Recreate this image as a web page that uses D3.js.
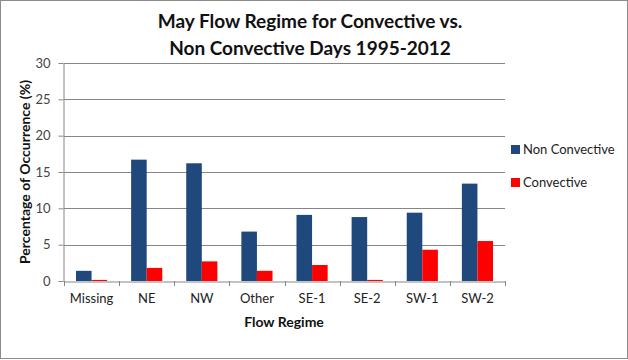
<!DOCTYPE html>
<html><head><meta charset="utf-8">
<script src="https://cdn.jsdelivr.net/npm/d3@7"></script>
<style>body{margin:0;background:#fff}svg{display:block}text{font-family:Lato,"Open Sans",sans-serif}</style>
</head><body>
<svg id="c" width="628" height="360"></svg>
<script>
const categories = ["Missing","NE","NW","Other","SE-1","SE-2","SW-1","SW-2"];
const nonConvective = [1.4,16.7,16.2,6.8,9.1,8.8,9.4,13.4];
const convective = [0.15,1.8,2.7,1.4,2.2,0.15,4.3,5.5];
const seriesNames = ["Non Convective","Convective"];
const seriesColors = ["#1F497D","#FF0000"];
const yTicks = [0,5,10,15,20,25,30];
const titleLines = ["May Flow Regime for Convective vs.","Non Convective Days 1995-2012"];

const svg = d3.select("#c");
svg.append("rect").attr("x",0.5).attr("y",0.5).attr("width",627).attr("height",358)
  .attr("fill","#fff").attr("stroke","#8c8c8c");

const m = {left:64,right:505,top:63,bottom:281};
const x = d3.scaleBand().domain(categories).range([m.left,m.right]).paddingInner(0.435).paddingOuter(0.2175);
const x1 = d3.scaleBand().domain(seriesNames).range([0,x.bandwidth()]);
const y = d3.scaleLinear().domain([0,30]).range([m.bottom,m.top]);

// gridlines
svg.append("g").selectAll("line").data(yTicks.filter(d=>d>0)).join("line")
  .attr("x1",m.left).attr("x2",m.right).attr("y1",d=>Math.round(y(d))+0.5).attr("y2",d=>Math.round(y(d))+0.5)
  .attr("stroke","#868686").attr("stroke-width",1);

// bars
const data = categories.map((c,i)=>({c, vals:[nonConvective[i],convective[i]]}));
const g = svg.append("g").selectAll("g").data(data).join("g").attr("transform",d=>`translate(${x(d.c)},0)`);
g.selectAll("rect").data(d=>d.vals.map((v,j)=>({v,s:seriesNames[j],col:seriesColors[j]}))).join("rect")
  .attr("x",d=>x1(d.s)).attr("width",x1.bandwidth())
  .attr("y",d=>y(d.v)).attr("height",d=>y(0)-y(d.v)).attr("fill",d=>d.col);

// y axis
const ya = svg.append("g").attr("transform",`translate(${m.left-0.5},0)`)
  .call(d3.axisLeft(y).tickValues(yTicks).tickSize(5).tickPadding(8).tickSizeOuter(0));
ya.select(".domain").attr("stroke","#868686");
ya.selectAll(".tick line").attr("stroke","#868686");
ya.selectAll(".tick text").attr("font-size",13).attr("fill","#444").style("font-family","Lato,sans-serif");

// x axis
const bandStep = x.step();
const xa = svg.append("g").attr("transform",`translate(0,${m.bottom+0.5})`)
  .call(d3.axisBottom(x).tickSize(0).tickPadding(12).tickSizeOuter(0));
xa.select(".domain").attr("stroke","#868686");
xa.selectAll(".tick text").attr("font-size",13).attr("fill","#222").style("font-family","Lato,sans-serif");
const xb = d3.range(categories.length+1).map(i=>m.left+i*(m.right-m.left)/categories.length);
svg.append("g").selectAll("line").data(xb).join("line")
  .attr("x1",d=>Math.round(d)+0.5).attr("x2",d=>Math.round(d)+0.5)
  .attr("y1",m.bottom).attr("y2",m.bottom+5).attr("stroke","#868686");

// titles
svg.append("g").selectAll("text").data(titleLines).join("text")
  .attr("x",310).attr("y",(d,i)=>28+i*27).attr("text-anchor","middle")
  .attr("font-size",19).attr("font-weight","bold").attr("fill","#111").text(d=>d);
svg.append("text").attr("x",284).attr("y",327).attr("text-anchor","middle")
  .attr("font-size",14).attr("font-weight","bold").attr("fill","#111").text("Flow Regime");
svg.append("text").attr("transform","translate(30,172) rotate(-90)").attr("text-anchor","middle")
  .attr("font-size",14).attr("font-weight","bold").attr("fill","#111").text("Percentage of Occurrence (%)");

// legend
const lg = svg.append("g").selectAll("g").data(seriesNames).join("g")
  .attr("transform",(d,i)=>`translate(511,${145+i*33})`);
lg.append("rect").attr("width",9).attr("height",9).attr("fill",(d,i)=>seriesColors[i]);
lg.append("text").attr("x",12).attr("y",9).attr("font-size",13).attr("fill","#222").text(d=>d);
</script>
</body></html>
